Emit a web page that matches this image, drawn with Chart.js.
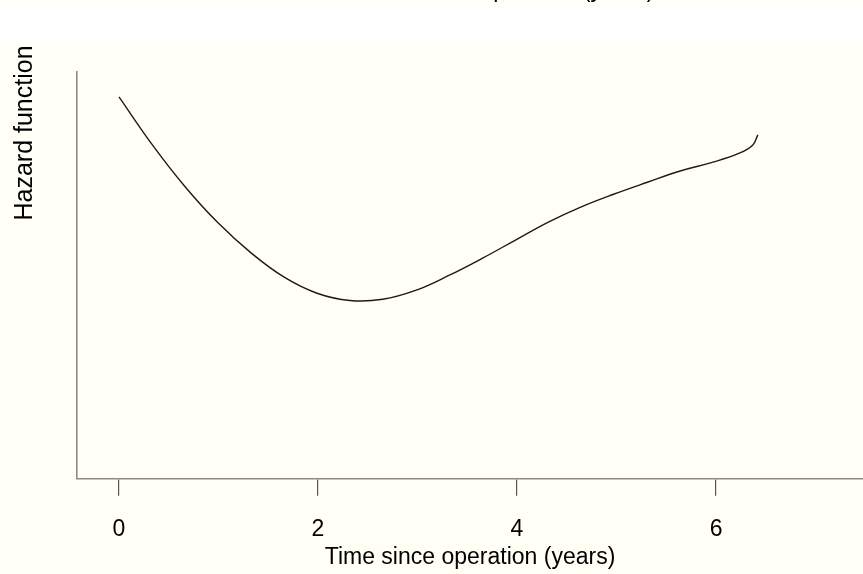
<!DOCTYPE html>
<html>
<head>
<meta charset="utf-8">
<script src="https://cdn.jsdelivr.net/npm/chart.js@4"></script>
<style>
  html, body { margin: 0; padding: 0; background: #fffff5; }
  #wrap { width: 863px; height: 574px; }
</style>
</head>
<body>
<div id="wrap"><canvas id="myChart"></canvas></div>
<script>
// time since operation (years)
const years = [0.00, 0.33, 0.66, 0.99, 1.33, 1.66, 1.99, 2.32, 2.65, 2.98, 3.32, 3.65, 3.98,
  4.31, 4.64, 4.97, 5.31, 5.64, 5.97, 6.24, 6.37, 6.42];
// hazard (arbitrary units, no y ticks on the original)
const hazard = [0.0953, 0.0835, 0.0730, 0.0640, 0.0563, 0.0503, 0.0463, 0.0445, 0.0448, 0.0470,
  0.0508, 0.0550, 0.0595, 0.0640, 0.0678, 0.0710, 0.0740, 0.0768, 0.0790, 0.0813, 0.0833,
  0.0858];
const xTicks = [0, 2, 4, 6];

const xTitle = "Time since operation (years)";
const yTitle = "Hazard function";
const FONT = "'Liberation Sans', Arial, Helvetica, sans-serif";

const backdrop = {
  id: "backdrop",
  beforeDraw(chart) {
    const ctx = chart.ctx;
    ctx.save();
    ctx.fillStyle = "#fffff5";
    ctx.fillRect(0, 0, chart.width, chart.height);
    // tail of the previous panel's axis title, cut off at the top
    ctx.fillStyle = "#000";
    ctx.font = "23px " + FONT;
    ctx.textAlign = "center";
    ctx.textBaseline = "alphabetic";
    ctx.fillText(xTitle, 509, -3);
    ctx.fillStyle = "#ffffff";
    ctx.fillRect(0, 7, chart.width, 35);
    ctx.restore();
  },
  afterDraw(chart) {
    const ctx = chart.ctx;
    ctx.save();
    ctx.fillStyle = "#000";
    ctx.font = "25px " + FONT;
    ctx.textAlign = "center";
    ctx.textBaseline = "middle";
    ctx.translate(25, 133);
    ctx.rotate(-Math.PI / 2);
    ctx.fillText(yTitle, 0, 0);
    ctx.restore();
  }
};

const data = {
  datasets: [
    {
      label: "hazard",
      data: years.map((x, i) => ({ x: x, y: hazard[i] })),
      borderColor: "#1a1a1a",
      borderWidth: 1.4,
      pointRadius: 0,
      tension: 0.4,
      fill: false,
    },
  ],
};

const config = {
  type: "line",
  data: data,
  options: {
    responsive: true,
    maintainAspectRatio: false,
    animation: false,
    layout: { padding: { left: 77, top: 72, right: 0, bottom: 0 } },
    plugins: {
      legend: { display: false },
      tooltip: { enabled: false },
    },
    scales: {
      x: {
        type: "linear",
        min: -0.422,
        max: 7.477,
        afterBuildTicks: (axis) => {
          axis.ticks = xTicks.map((v) => ({ value: v }));
        },
        ticks: {
          color: "#000",
          font: { family: FONT, size: 23 },
          padding: 20,
          maxRotation: 0,
        },
        grid: {
          drawOnChartArea: false,
          drawTicks: true,
          tickLength: 17,
          color: "#555",
          lineWidth: 1.2,
        },
        border: { display: true, color: "#8c8c8c", width: 1.6 },
        title: {
          display: true,
          text: xTitle,
          color: "#000",
          font: { family: FONT, size: 23 },
          padding: { top: -20, bottom: 3 },
        },
      },
      y: {
        min: 0,
        max: 0.1015,
        ticks: { display: false },
        grid: { display: false, drawTicks: false, tickLength: 0 },
        border: { display: true, color: "#8c8c8c", width: 1.6 },
      },
    },
  },
  plugins: [backdrop],
};

new Chart(document.getElementById("myChart").getContext("2d"), config);
</script>
</body>
</html>
